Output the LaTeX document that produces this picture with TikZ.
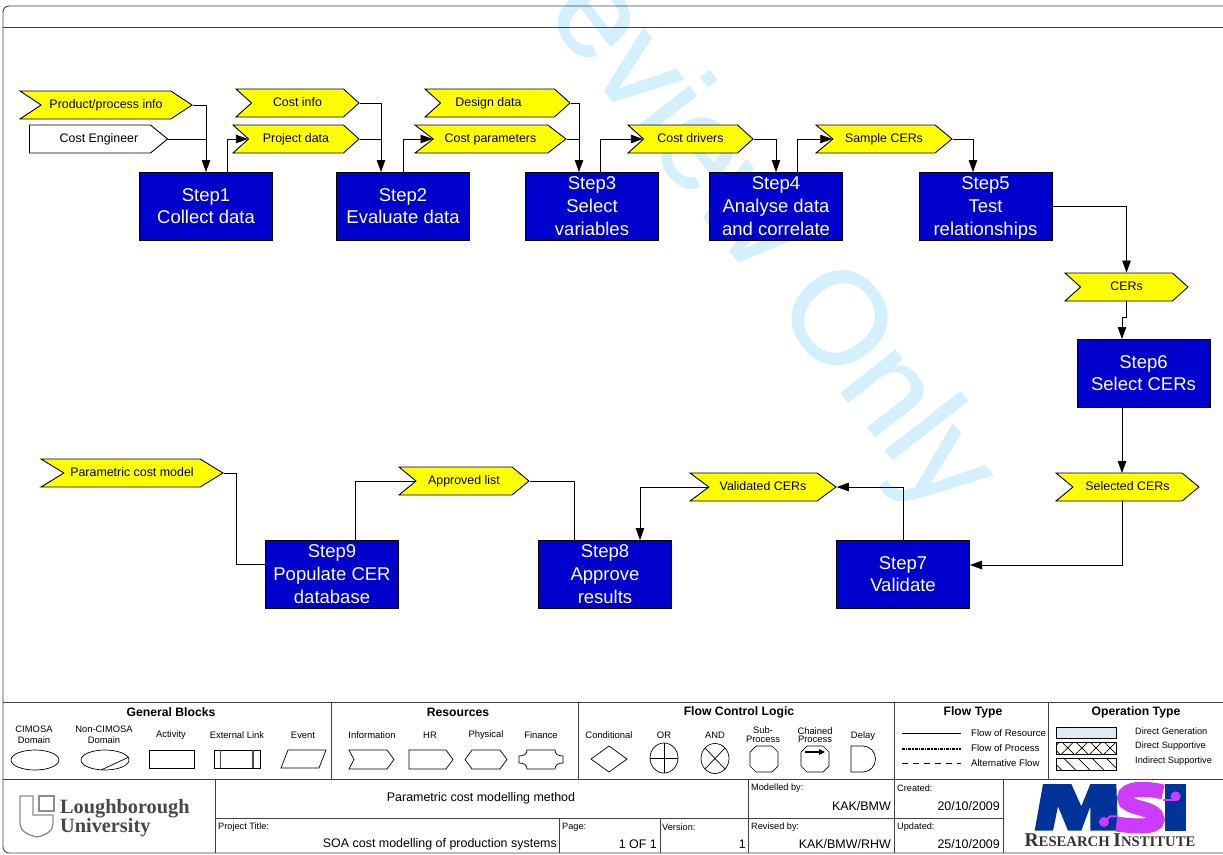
\documentclass[tikz,border=0pt]{standalone}
\usepackage{fontspec}
\usepackage{tikz}
\usepackage{xcolor}
\usetikzlibrary{arrows.meta,shapes.symbols,patterns.meta}
\setmainfont{Liberation Sans}
\newfontfamily\logoface{Liberation Serif}
\newfontfamily\markface[FakeBold=1]{Liberation Sans}
\definecolor{stepblue}{RGB}{0,0,204}
\definecolor{tagyellow}{RGB}{255,255,0}
\definecolor{markblue}{RGB}{212,240,254}
\definecolor{msiblue}{RGB}{0,51,153}
\definecolor{msipink}{RGB}{204,60,255}
\tikzset{
  stepbox/.style={draw=black,line width=.9pt,fill=stepblue,text=white,minimum width=133pt,minimum height=68pt,inner sep=0pt,align=center,font=\fontsize{18.5}{22.7}\selectfont},
  tag/.style={signal,signal to=east,signal from=west,signal pointer angle=#1,draw=black,line width=.9pt,fill=tagyellow,minimum height=28pt,inner sep=0pt,text height=9pt,text depth=2.8pt,font=\fontsize{12.4}{14}\selectfont},
  tag/.default=84,
  flow/.style={line width=.8pt,-{Triangle[length=12pt,width=8.5pt]}},
  plain/.style={line width=.8pt},
  frame/.style={line width=.9pt,draw=black!75},
  head/.style={inner sep=0pt,font=\bfseries\fontsize{12.2}{14}\selectfont},
  lab/.style={inner sep=0pt,align=center,font=\fontsize{9.4}{11.5}\selectfont},
  lab2/.style={inner sep=0pt,align=center,font=\fontsize{9.4}{8.7}\selectfont},
  small/.style={inner sep=0pt,anchor=west,font=\fontsize{9.2}{11}\selectfont},
  val/.style={inner sep=0pt,anchor=east,font=\fontsize{12.45}{14}\selectfont},
  sym/.style={line width=.7pt},
}
\begin{document}
\begin{tikzpicture}[x=1pt,y=-1pt]
\useasboundingbox (0,0) rectangle (1223,854);
% watermark
\begin{scope}
\clip (0,0) rectangle (1223,854);
\node (mark) [anchor=base west,inner sep=0pt,rotate=-52,text=markblue,font=\markface\fontsize{131}{131}\selectfont] at (544,13) {eview Only};
\end{scope}
% frame
\draw[frame,rounded corners=6pt] (1226,6) -- (3,6) -- (3,853) -- (1226,853);
\draw[frame] (3,27) -- (1223,27);
\draw[frame] (3,702) -- (1223,702);
\draw[frame] (3,779) -- (1223,779);
\foreach \xx in {331,578,894,1048} \draw[frame] (\xx,702) -- (\xx,779);
\draw[frame] (215,779) -- (215,853);
\draw[frame] (215,818) -- (1003,818);
\foreach \xx in {748,894,1003} \draw[frame] (\xx,779) -- (\xx,853);
\foreach \xx in {559,660} \draw[frame] (\xx,818) -- (\xx,853);
% activities
\node (step1) [stepbox] at (206,206) {Step1\\Collect data};
\node (step2) [stepbox] at (403,206) {Step2\\Evaluate data};
\node (step3) [stepbox] at (592,206) {Step3\\Select\\variables};
\node (step4) [stepbox] at (776,206) {Step4\\Analyse data\\and correlate};
\node (step5) [stepbox] at (985.5,206) {Step5\\Test\\\smash{relationships}};
\node (step6) [stepbox] at (1143.5,373) {Step6\\Select CERs};
\node (step7) [stepbox] at (903,574) {Step7\\Validate};
\node (step8) [stepbox] at (605,574) {Step8\\Approve\\results};
\node (step9) [stepbox] at (332,574) {Step9\\Populate CER\\database};
% resources
\node (prod) [tag=67,minimum width=172pt] at (106,105) {Product/process info};
\node (eng) [tag=79,signal from=nowhere,fill=white,minimum width=138pt] at (90,139) {\hspace*{18pt}Cost Engineer};
\node (cinfo) [tag,minimum width=123pt] at (297.5,103) {Cost info};
\node (pdata) [tag,minimum width=126pt] at (296,139) {Project data};
\node (ddata) [tag,minimum width=145pt] at (497.5,103) {Design data\hspace*{18pt}};
\node (cparam) [tag=75,minimum width=151pt] at (490.5,139) {Cost parameters};
\node (cdrv) [tag,minimum width=125pt] at (690.5,139) {Cost drivers};
\node (scer) [tag=79,minimum width=136pt] at (884,139) {Sample CERs};
\node (cers) [tag,minimum width=123pt] at (1126.5,287) {CERs};
\node (selc) [tag=79,minimum width=143pt] at (1127.5,487) {Selected CERs};
\node (valc) [tag=73,minimum width=146pt] at (763,487) {Validated CERs};
\node (appr) [tag=79,minimum width=130pt] at (464,481) {Approved list};
\node (pmod) [tag=63,minimum width=182pt] at (132,473) {Parametric cost model};
% ports on the boxes
\coordinate (s1in) at (206,172);
\coordinate (s1out) at (227,172);
\coordinate (s2in) at (381,172);
\coordinate (s2out) at (403,172);
\coordinate (s3in) at (579,172);
\coordinate (s3out) at (600,172);
\coordinate (s4in) at (776,172);
\coordinate (s4out) at (797,172);
\coordinate (s5in) at (973,172);
\coordinate (s6in) at (1122,339);
\coordinate (s6out) at (1122,407);
\coordinate (selin) at (1122,473);
\coordinate (selout) at (1122,501);
\coordinate (s7in) at (970,565);
\coordinate (s7out) at (903,540);
\coordinate (s8in) at (640,540);
\coordinate (s8out) at (574,540);
\coordinate (s9out) at (355,540);
\coordinate (s9in) at (266,564);
% flows
\draw[flow] (prod.east) -| (s1in);
\draw[plain] (eng.east) -- (eng.east -| s1in);
\draw[flow] (s1out) |- (pdata.west);
\draw[flow] (cinfo.east) -| (s2in);
\draw[plain] (pdata.east) -- (pdata.east -| s2in);
\draw[flow] (s2out) |- (cparam.west);
\draw[flow] (ddata.east) -| (s3in);
\draw[plain] (cparam.east) -- (cparam.east -| s3in);
\draw[flow] (s3out) |- (cdrv.west);
\draw[flow] (cdrv.east) -| (s4in);
\draw[flow] (s4out) |- (scer.west);
\draw[flow] (scer.east) -| (s5in);
\draw[flow] (step5.east) -| (cers.north);
\draw[flow] (cers.south) |- (1122,317) -- (s6in);
\draw[flow] (s6out) -- (selin);
\draw[flow] (selout) |- (s7in);
\draw[flow] (s7out) |- (valc.east);
\draw[flow] (valc.west) -| (s8in);
\draw[plain] (s8out) |- (appr.east);
\draw[plain] (s9out) |- (appr.west);
\draw[plain] (s9in) -| (236,473) -- (pmod.east);
% legend titles
\node (lgen) [head] at (171,712) {General Blocks};
\node (lres) [head] at (458,712) {Resources};
\node (lflow) [head] at (739,712) {Flow Control Logic};
\node (ltype) [head] at (973,712) {Flow Type};
\node (lop) [head] at (1136,712) {Operation Type};
% general blocks
\node (lcim) [lab] at (34,735) {CIMOSA\\Domain};
\node (lnon) [lab] at (104,735) {Non-CIMOSA\\Domain};
\node (lact) [lab] at (171,735) {Activity};
\node (lext) [lab] at (237,735) {External Link};
\node (levt) [lab] at (303,735) {Event};
\draw[sym] (35,760) ellipse (24 and 10);
\draw[sym] (105,760) ellipse (24 and 10);
\draw[sym] (101,770) -- (129,757);
\draw[sym] (149,750) rectangle (194,768);
\draw[sym] (214,750) rectangle (260,768);
\draw[line width=1.2pt,draw=black!70] (220.5,750) -- (220.5,768);
\draw[line width=1.2pt,draw=black!70] (253,750) -- (253,768);
\draw[sym] (281,768) -- (288,750) -- (326,750) -- (319,768) -- cycle;
% resources
\node (linf) [lab] at (372,735) {Information};
\node (lhr) [lab] at (430,735) {HR};
\node (lphy) [lab] at (486,735) {Physical};
\node (lfin) [lab] at (541,735) {Finance};
\draw[sym] (349,750) -- (387,750) -- (394,759.5) -- (387,769) -- (349,769) -- (354,759.5) -- cycle;
\draw[sym] (409,750) -- (446,750) -- (453,759.5) -- (446,769) -- (409,769) -- cycle;
\draw[sym] (472,750) -- (500,750) -- (507,759.5) -- (500,769) -- (472,769) -- (465,759.5) -- cycle;
\draw[sym] (527,750) -- (555,750) .. controls (555,754) and (558,756) .. (563,756) -- (563,763) .. controls (558,763) and (555,765) .. (555,769) -- (527,769) .. controls (527,765) and (524,763) .. (519,763) -- (519,756) .. controls (524,756) and (527,754) .. (527,750) -- cycle;
% flow control
\node (lcon) [lab] at (609,735) {Conditional};
\node (lor) [lab] at (664,735) {OR};
\node (land) [lab] at (715,735) {AND};
\node (lsub) [lab2] at (763,734.5) {Sub-\\Process};
\node (lcha) [lab2] at (815,735) {Chained\\Process};
\node (ldel) [lab] at (863,736) {Delay};
\draw[sym] (591,759) -- (609,746) -- (627,759) -- (609,772) -- cycle;
\draw[sym] (664,758) ellipse (14 and 15);
\draw[sym] (650,758) -- (678,758);
\draw[sym] (664,743) -- (664,773);
\draw[sym] (715,758.5) ellipse (14 and 15);
\draw[sym] (705,748) -- (725,769);
\draw[sym] (705,769) -- (725,748);
\foreach \cx in {764,815}
  \draw[sym] (\cx-8,746) -- (\cx+8,746) -- (\cx+14,752) -- (\cx+14,766) -- (\cx+8,772) -- (\cx-8,772) -- (\cx-14,766) -- (\cx-14,752) -- cycle;
\draw[line width=1.1pt,-{Triangle[length=6pt,width=5.5pt]}] (805,752) -- (825,752);
\draw[sym] (851,746) -- (863,746) arc (-90:90:12.5 and 13) -- (851,772) -- cycle;
% flow type
\draw[sym] (902,733) -- (961,733);
\draw[line width=1.3pt,densely dashdotted] (902,749) -- (961,749);
\draw[sym,dash pattern=on 6pt off 5pt] (902,763) -- (961,763);
\node (lres1) [small,font=\fontsize{9.6}{11}\selectfont] at (971,733) {Flow of Resource};
\node (lpro1) [small,font=\fontsize{9.6}{11}\selectfont] at (971,748) {Flow of Process};
\node (lalt1) [small,font=\fontsize{9.6}{11}\selectfont] at (971,763) {Alternative Flow};
% operation type
\draw[sym,fill={rgb,255:red,222;green,235;blue,247}] (1056,727) rectangle (1116,738);
\draw[sym,pattern={Lines[angle=45,distance=10pt,line width=.7pt]}] (1056,742) rectangle (1116,754);
\draw[sym,pattern={Lines[angle=-45,distance=10pt,line width=.7pt]}] (1056,742) rectangle (1116,754);
\draw[sym,pattern={Lines[angle=-45,distance=10pt,line width=.7pt]}] (1056,758) rectangle (1116,770);
\node (lgen1) [small] at (1135,731) {Direct Generation};
\node (lsup1) [small] at (1135,746) {Direct Supportive};
\node (lind1) [small] at (1135,761) {Indirect Supportive};
% title block
\node (ttl) [inner sep=0pt,font=\fontsize{12.45}{14}\selectfont] at (481,798.5) {Parametric cost modelling method};
\node (tprj) [small] at (218,827) {Project Title:};
\node (vprj) [val] at (557,844.5) {SOA cost modelling of production systems};
\node (tpag) [small] at (562,827) {Page:};
\node (vpag) [val] at (657,844.5) {1 OF 1};
\node (tver) [small] at (662,827) {Version:};
\node (vver) [val] at (746,844.5) {1};
\node (tmod) [small] at (751,788) {Modelled by:};
\node (vmod) [val] at (891,806) {KAK/BMW};
\node (trev) [small] at (751,827) {Revised by:};
\node (vrev) [val] at (891,844.5) {KAK/BMW/RHW};
\node (tcre) [small] at (897,788) {Created:};
\node (vcre) [val] at (1000,806) {20/10/2009};
\node (tupd) [small] at (897,827) {Updated:};
\node (vupd) [val] at (1000,844.5) {25/10/2009};
% university logo
\draw[line width=1.3pt,draw=black!45] (20,796) -- (33,796) -- (33,815) -- (53,815) -- (53,824) .. controls (53,831) and (46,835) .. (37,837) .. controls (28,835) and (20,831) .. (20,824) -- cycle;
\draw[line width=1.3pt,draw=black!45] (39,796) rectangle (54,811);
\node (lboro) [anchor=base west,inner sep=0pt,text=black!72,font=\logoface\bfseries\fontsize{20.3}{20}\selectfont] at (60,813) {Loughborough};
\node (luni) [anchor=base west,inner sep=0pt,text=black!72,font=\logoface\bfseries\fontsize{20.3}{20}\selectfont] at (60,832) {University};
% institute logo
\begin{scope}[shift={(1003,778)},x=.3333pt,y=-.3333pt]
\fill[msiblue] (95,158) -- (120,18) -- (205,18) -- (235,85) -- (262,18) -- (340,18) -- (345,158) -- (262,158) -- (262,85) -- (235,158) -- (195,158) -- (165,85) -- (150,158) -- cycle;
\fill[msiblue] (485,18) rectangle (550,158);
\draw[msipink,line width=15pt] (480,42) .. controls (430,30) and (365,28) .. (365,60) .. controls (365,95) and (462,85) .. (462,125) .. controls (462,150) and (390,145) .. (340,138);
\draw[msipink,line width=2pt] (480,65) -- (518,65) -- (518,55);
\draw[msipink,line width=2pt] (303,132) -- (322,115) -- (345,115);
\fill[msipink] (518,55) circle (15);
\fill[msipink] (303,132) circle (15);
\end{scope}
\node (rsi) [inner sep=0pt,text=black!80,font=\logoface\bfseries\fontsize{14.7}{16}\selectfont] at (1110,840.5) {{\fontsize{19.5}{16}\selectfont R}ESEARCH {\fontsize{19.5}{16}\selectfont I}NSTITUTE};
\end{tikzpicture}
\end{document}
